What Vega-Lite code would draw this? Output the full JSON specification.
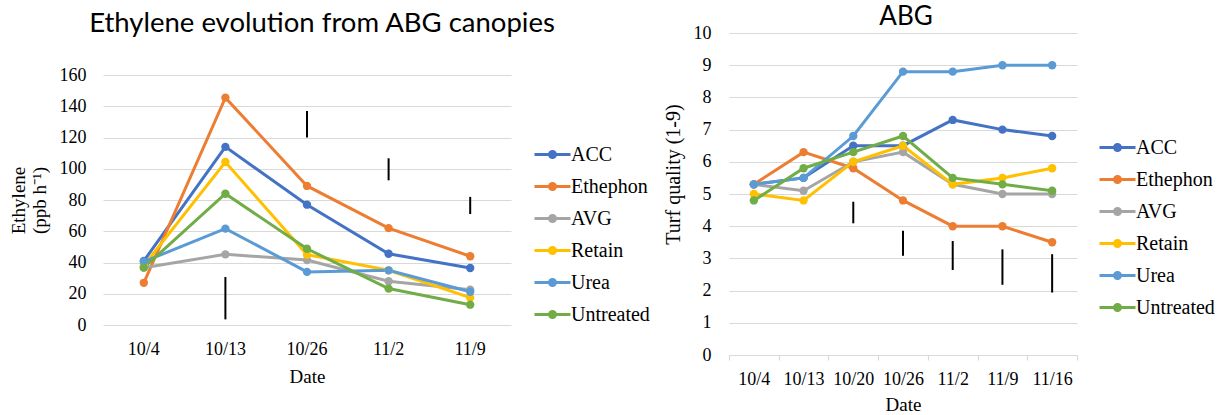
{
  "$schema": "https://vega.github.io/schema/vega-lite/v6.json",
  "padding": {"left": 9, "top": 4, "right": 0, "bottom": 0},
  "spacing": 13,
  "datasets": {
    "eth": [
      {"date": "10/4", "treatment": "ACC", "value": 41},
      {"date": "10/13", "treatment": "ACC", "value": 114},
      {"date": "10/26", "treatment": "ACC", "value": 77},
      {"date": "11/2", "treatment": "ACC", "value": 45.6},
      {"date": "11/9", "treatment": "ACC", "value": 36.5},
      {"date": "10/4", "treatment": "Ethephon", "value": 27},
      {"date": "10/13", "treatment": "Ethephon", "value": 145.5},
      {"date": "10/26", "treatment": "Ethephon", "value": 89},
      {"date": "11/2", "treatment": "Ethephon", "value": 62},
      {"date": "11/9", "treatment": "Ethephon", "value": 44},
      {"date": "10/4", "treatment": "AVG", "value": 36.7},
      {"date": "10/13", "treatment": "AVG", "value": 45.2},
      {"date": "10/26", "treatment": "AVG", "value": 41.6},
      {"date": "11/2", "treatment": "AVG", "value": 28},
      {"date": "11/9", "treatment": "AVG", "value": 22.6},
      {"date": "10/4", "treatment": "Retain", "value": 38},
      {"date": "10/13", "treatment": "Retain", "value": 104.3},
      {"date": "10/26", "treatment": "Retain", "value": 45},
      {"date": "11/2", "treatment": "Retain", "value": 35},
      {"date": "11/9", "treatment": "Retain", "value": 17.5},
      {"date": "10/4", "treatment": "Urea", "value": 40.5},
      {"date": "10/13", "treatment": "Urea", "value": 61.7},
      {"date": "10/26", "treatment": "Urea", "value": 34},
      {"date": "11/2", "treatment": "Urea", "value": 35},
      {"date": "11/9", "treatment": "Urea", "value": 21.3},
      {"date": "10/4", "treatment": "Untreated", "value": 36.7},
      {"date": "10/13", "treatment": "Untreated", "value": 84},
      {"date": "10/26", "treatment": "Untreated", "value": 48.8},
      {"date": "11/2", "treatment": "Untreated", "value": 23.3},
      {"date": "11/9", "treatment": "Untreated", "value": 13}
    ],
    "ethLSD": [
      {"date": "10/13", "value": 3.6, "hi": 30.7},
      {"date": "10/26", "value": 120, "hi": 137},
      {"date": "11/2", "value": 92.6, "hi": 106.7},
      {"date": "11/9", "value": 71, "hi": 82}
    ],
    "turf": [
      {"date": "10/4", "treatment": "ACC", "value": 5.3},
      {"date": "10/13", "treatment": "ACC", "value": 5.5},
      {"date": "10/20", "treatment": "ACC", "value": 6.5},
      {"date": "10/26", "treatment": "ACC", "value": 6.5},
      {"date": "11/2", "treatment": "ACC", "value": 7.3},
      {"date": "11/9", "treatment": "ACC", "value": 7.0},
      {"date": "11/16", "treatment": "ACC", "value": 6.8},
      {"date": "10/4", "treatment": "Ethephon", "value": 5.3},
      {"date": "10/13", "treatment": "Ethephon", "value": 6.3},
      {"date": "10/20", "treatment": "Ethephon", "value": 5.8},
      {"date": "10/26", "treatment": "Ethephon", "value": 4.8},
      {"date": "11/2", "treatment": "Ethephon", "value": 4.0},
      {"date": "11/9", "treatment": "Ethephon", "value": 4.0},
      {"date": "11/16", "treatment": "Ethephon", "value": 3.5},
      {"date": "10/4", "treatment": "AVG", "value": 5.3},
      {"date": "10/13", "treatment": "AVG", "value": 5.1},
      {"date": "10/20", "treatment": "AVG", "value": 6.0},
      {"date": "10/26", "treatment": "AVG", "value": 6.3},
      {"date": "11/2", "treatment": "AVG", "value": 5.3},
      {"date": "11/9", "treatment": "AVG", "value": 5.0},
      {"date": "11/16", "treatment": "AVG", "value": 5.0},
      {"date": "10/4", "treatment": "Retain", "value": 5.0},
      {"date": "10/13", "treatment": "Retain", "value": 4.8},
      {"date": "10/20", "treatment": "Retain", "value": 6.0},
      {"date": "10/26", "treatment": "Retain", "value": 6.5},
      {"date": "11/2", "treatment": "Retain", "value": 5.3},
      {"date": "11/9", "treatment": "Retain", "value": 5.5},
      {"date": "11/16", "treatment": "Retain", "value": 5.8},
      {"date": "10/4", "treatment": "Urea", "value": 5.3},
      {"date": "10/13", "treatment": "Urea", "value": 5.5},
      {"date": "10/20", "treatment": "Urea", "value": 6.8},
      {"date": "10/26", "treatment": "Urea", "value": 8.8},
      {"date": "11/2", "treatment": "Urea", "value": 8.8},
      {"date": "11/9", "treatment": "Urea", "value": 9.0},
      {"date": "11/16", "treatment": "Urea", "value": 9.0},
      {"date": "10/4", "treatment": "Untreated", "value": 4.8},
      {"date": "10/13", "treatment": "Untreated", "value": 5.8},
      {"date": "10/20", "treatment": "Untreated", "value": 6.3},
      {"date": "10/26", "treatment": "Untreated", "value": 6.8},
      {"date": "11/2", "treatment": "Untreated", "value": 5.5},
      {"date": "11/9", "treatment": "Untreated", "value": 5.3},
      {"date": "11/16", "treatment": "Untreated", "value": 5.1}
    ],
    "turfLSD": [
      {"date": "10/20", "value": 4.09, "hi": 4.76},
      {"date": "10/26", "value": 3.08, "hi": 3.86},
      {"date": "11/2", "value": 2.64, "hi": 3.54},
      {"date": "11/9", "value": 2.18, "hi": 3.28},
      {"date": "11/16", "value": 1.94, "hi": 3.13}
    ]
  },
  "hconcat": [
    {
      "width": 408,
      "height": 292,
      "title": {"text": "Ethylene evolution from ABG canopies", "fontSize": 27.5, "dx": 15, "offset": -32, "baseline": "bottom", "frame": "group", "anchor": "middle"},
      "encoding": {
        "x": {"field": "date", "type": "ordinal", "bandPosition": 0.5,
          "scale": {"type": "band", "domain": ["10/4", "10/13", "10/26", "11/2", "11/9"], "paddingInner": 0, "paddingOuter": 0},
          "axis": {"title": "Date", "labelAngle": 0, "domain": false, "ticks": false, "tickSize": 0, "grid": false, "labelPadding": 15, "titlePadding": 9}},
        "y": {"field": "value", "type": "quantitative",
          "scale": {"domain": [0, 160], "nice": false, "range": [292, 42]},
          "axis": {"title": ["Ethylene", "(ppb h⁻¹)"], "values": [0, 20, 40, 60, 80, 100, 120, 140, 160], "labelOverlap": false, "domain": false, "ticks": false, "tickSize": 0, "grid": true, "labelPadding": 17, "titlePadding": 10, "titleLineHeight": 21}}
      },
      "layer": [
        {
          "data": {"name": "eth"},
          "mark": {"type": "line", "strokeWidth": 3, "point": {"filled": true, "size": 70, "opacity": 1}},
          "encoding": {
            "color": {"field": "treatment", "type": "nominal",
              "scale": {"domain": ["ACC", "Ethephon", "AVG", "Retain", "Urea", "Untreated"], "range": ["#4472C4", "#ED7D31", "#A5A5A5", "#FFC000", "#5B9BD5", "#70AD47"]},
              "legend": {"orient": "none", "legendX": 438, "legendY": 110, "title": null,
                "symbolType": "M-1.8,0H1.8M0.3,0A0.3,0.3,0,1,1,-0.3,0A0.3,0.3,0,1,1,0.3,0M0.1,0A0.1,0.1,0,1,1,-0.1,0A0.1,0.1,0,1,1,0.1,0",
                "symbolSize": 400, "symbolStrokeWidth": 3, "symbolOpacity": 1,
                "labelFont": "Liberation Serif", "labelFontSize": 20, "labelColor": "#000", "labelOffset": 7, "rowPadding": 10, "padding": 0}}
          }
        },
        {
          "data": {"name": "ethLSD"},
          "mark": {"type": "rule", "color": "#000", "strokeWidth": 2},
          "encoding": {
            "y2": {"field": "hi"}
          }
        }
      ]
    },
    {
      "width": 348,
      "height": 322,
      "title": {"text": "ABG", "offset": -32, "dx": 3, "baseline": "bottom", "frame": "group", "anchor": "middle"},
      "encoding": {
        "x": {"field": "date", "type": "ordinal", "bandPosition": 0.5,
          "scale": {"type": "band", "domain": ["10/4", "10/13", "10/20", "10/26", "11/2", "11/9", "11/16"], "paddingInner": 0, "paddingOuter": 0},
          "axis": {"title": "Date", "labelAngle": 0, "domain": true, "ticks": true, "tickSize": 5, "tickBand": "extent", "grid": false, "labelPadding": 10, "titlePadding": 7}},
        "y": {"field": "value", "type": "quantitative",
          "scale": {"domain": [0, 10], "nice": false},
          "axis": {"title": "Turf quality (1-9)", "values": [0, 1, 2, 3, 4, 5, 6, 7, 8, 9, 10], "labelOverlap": false, "domain": false, "ticks": false, "tickSize": 0, "grid": true, "labelPadding": 18, "titlePadding": 10, "titleFontSize": 20, "titleY": 141}}
      },
      "layer": [
        {
          "data": {"name": "turf"},
          "mark": {"type": "line", "strokeWidth": 3, "point": {"filled": true, "size": 70, "opacity": 1}},
          "encoding": {
            "color": {"field": "treatment", "type": "nominal",
              "scale": {"domain": ["ACC", "Ethephon", "AVG", "Retain", "Urea", "Untreated"], "range": ["#4472C4", "#ED7D31", "#A5A5A5", "#FFC000", "#5B9BD5", "#70AD47"]},
              "legend": {"orient": "none", "legendX": 377, "legendY": 103, "title": null,
                "symbolType": "M-1.8,0H1.8M0.3,0A0.3,0.3,0,1,1,-0.3,0A0.3,0.3,0,1,1,0.3,0M0.1,0A0.1,0.1,0,1,1,-0.1,0A0.1,0.1,0,1,1,0.1,0",
                "symbolSize": 400, "symbolStrokeWidth": 3, "symbolOpacity": 1,
                "labelFont": "Liberation Serif", "labelFontSize": 20, "labelColor": "#000", "labelOffset": 7, "rowPadding": 10, "padding": 0}}
          }
        },
        {
          "data": {"name": "turfLSD"},
          "mark": {"type": "rule", "color": "#000", "strokeWidth": 2},
          "encoding": {
            "y2": {"field": "hi"}
          }
        }
      ]
    }
  ],
  "resolve": {
    "scale": {"x": "independent", "y": "independent", "color": "independent"},
    "legend": {"color": "independent"}
  },
  "config": {
    "view": {"stroke": null},
    "font": "Liberation Serif",
    "axis": {"labelFont": "Liberation Serif", "labelFontSize": 18, "labelColor": "#000", "titleFont": "Liberation Serif", "titleFontSize": 19, "titleFontWeight": "normal", "titleColor": "#000", "gridColor": "#D9D9D9", "gridWidth": 1.2, "domainColor": "#D9D9D9", "domainWidth": 1.2, "tickColor": "#D9D9D9", "tickWidth": 1.2},
    "title": {"font": "Lato", "fontSize": 26, "fontWeight": "normal", "color": "#000"}
  }
}
